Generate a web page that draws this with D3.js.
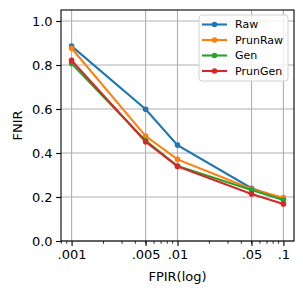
<!DOCTYPE html>
<html>
<head>
<meta charset="utf-8">
<script src="https://cdn.jsdelivr.net/npm/d3@7"></script>
<style>
  body { margin: 0; background: #fff; }
  text { font-family: "DejaVu Sans", sans-serif; fill: #000; }
</style>
</head>
<body>
<svg id="chart"></svg>
<script>
const fpir = [0.001, 0.005, 0.01, 0.05, 0.1];
const fpirLabels = [".001", ".005", ".01", ".05", ".1"];
const seriesNames = ["Raw", "PrunRaw", "Gen", "PrunGen"];
const seriesColors = ["#1f77b4", "#ff7f0e", "#2ca02c", "#d62728"];
const raw = [0.886, 0.599, 0.436, 0.240, 0.190];
const prunRaw = [0.876, 0.477, 0.371, 0.236, 0.197];
const gen = [0.807, 0.456, 0.341, 0.232, 0.186];
const prunGen = [0.821, 0.451, 0.339, 0.214, 0.168];
const yTicks = [0, 0.2, 0.4, 0.6, 0.8, 1.0];

const width = 303, height = 294;
const margin = { top: 10, right: 9, bottom: 53, left: 61 };

const svg = d3.select("#chart").attr("width", width).attr("height", height);

const logPad = 0.1;
const x = d3
  .scaleLog()
  .domain([Math.pow(10, -3 - logPad), Math.pow(10, -1 + logPad)])
  .range([margin.left, width - margin.right]);
const y = d3
  .scaleLinear()
  .domain([0, 1.05])
  .range([height - margin.bottom, margin.top]);

// grid
const grid = svg.append("g").attr("stroke", "#b0b0b0").attr("stroke-width", 1.1);
grid
  .selectAll("line.gx")
  .data(fpir)
  .enter()
  .append("line")
  .attr("x1", (d) => x(d))
  .attr("x2", (d) => x(d))
  .attr("y1", margin.top)
  .attr("y2", height - margin.bottom);
grid
  .selectAll("line.gy")
  .data(yTicks)
  .enter()
  .append("line")
  .attr("x1", margin.left)
  .attr("x2", width - margin.right)
  .attr("y1", (d) => y(d))
  .attr("y2", (d) => y(d));

// axes
const minorTicks = [];
[0.001, 0.01].forEach((base) => {
  for (let k = 2; k <= 9; k++) minorTicks.push(base * k);
});
minorTicks.push(0.0009, 0.0008);
minorTicks.push(0.2 > 0.127 ? null : 0.2);

const xAxis = svg
  .append("g")
  .attr("transform", `translate(0,${height - margin.bottom})`)
  .call(
    d3
      .axisBottom(x)
      .tickValues(fpir)
      .tickFormat((d, i) => fpirLabels[i])
      .tickSize(4.9)
      .tickPadding(3.5)
  );
xAxis
  .selectAll(".minor")
  .data(minorTicks.filter((d) => d && d >= x.domain()[0] && d <= x.domain()[1]))
  .enter()
  .append("line")
  .attr("class", "minor")
  .attr("x1", (d) => x(d))
  .attr("x2", (d) => x(d))
  .attr("y1", 0)
  .attr("y2", 2.8)
  .attr("stroke", "#000")
  .attr("stroke-width", 0.8);

const yAxis = svg
  .append("g")
  .attr("transform", `translate(${margin.left},0)`)
  .call(
    d3
      .axisLeft(y)
      .tickValues(yTicks)
      .tickFormat(d3.format(".1f"))
      .tickSize(4.9)
      .tickPadding(3.5)
  );

[xAxis, yAxis].forEach((a) => {
  a.select(".domain").remove();
  a.selectAll(".tick line").attr("stroke-width", 1.1);
  a.selectAll("text").attr("font-size", 13);
});

svg
  .append("rect")
  .attr("x", margin.left)
  .attr("y", margin.top)
  .attr("width", width - margin.left - margin.right)
  .attr("height", height - margin.top - margin.bottom)
  .attr("fill", "none")
  .attr("stroke", "#000")
  .attr("stroke-width", 1.1);

// series
const allSeries = [raw, prunRaw, gen, prunGen];
const line = d3
  .line()
  .x((d, i) => x(fpir[i]))
  .y((d) => y(d));

allSeries.forEach((vals, s) => {
  const g = svg.append("g");
  g.append("path")
    .datum(vals)
    .attr("d", line)
    .attr("fill", "none")
    .attr("stroke", seriesColors[s])
    .attr("stroke-width", 2.1);
  g.selectAll("circle")
    .data(vals)
    .enter()
    .append("circle")
    .attr("cx", (d, i) => x(fpir[i]))
    .attr("cy", (d) => y(d))
    .attr("r", 2.8)
    .attr("fill", seriesColors[s]);
});

// legend
const legend = svg.append("g").attr("transform", "translate(199,15)");
legend
  .append("rect")
  .attr("width", 89)
  .attr("height", 66)
  .attr("rx", 3)
  .attr("fill", "#fff")
  .attr("fill-opacity", 0.8)
  .attr("stroke", "#d0d0d0")
  .attr("stroke-width", 1);
seriesNames.forEach((name, i) => {
  const row = legend.append("g").attr("transform", `translate(0,${9.5 + i * 15.5})`);
  row.append("line")
    .attr("x1", 3)
    .attr("x2", 28)
    .attr("stroke", seriesColors[i])
    .attr("stroke-width", 2.1);
  row.append("circle").attr("cx", 15.5).attr("r", 2.8).attr("fill", seriesColors[i]);
  row.append("text")
    .attr("x", 36)
    .attr("dy", "0.35em")
    .attr("font-size", 11)
    .text(name);
});

// labels
svg
  .append("text")
  .attr("x", (margin.left + width - margin.right) / 2)
  .attr("y", 281)
  .attr("text-anchor", "middle")
  .attr("font-size", 13)
  .text("FPIR(log)");
svg
  .append("text")
  .attr("transform", `translate(22,${(margin.top + height - margin.bottom) / 2}) rotate(-90)`)
  .attr("text-anchor", "middle")
  .attr("font-size", 13)
  .text("FNIR");
</script>
</body>
</html>
